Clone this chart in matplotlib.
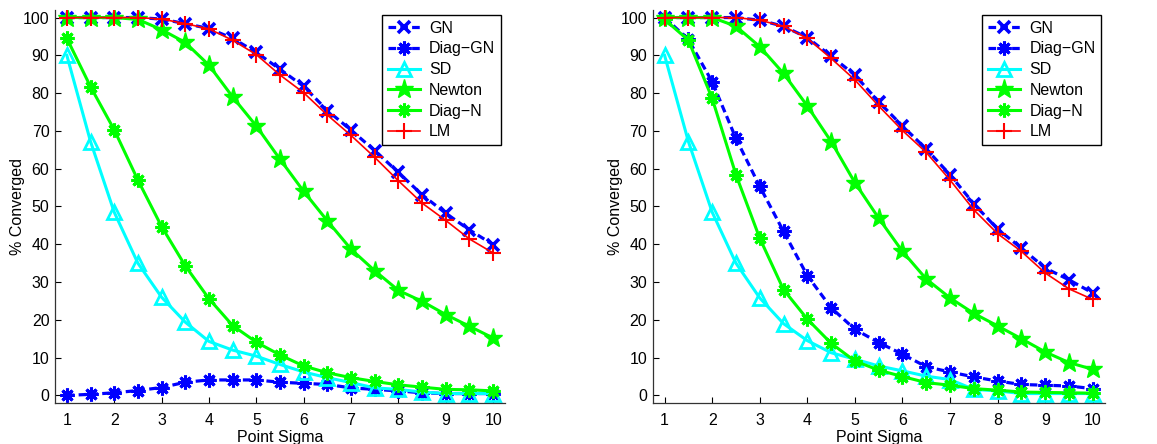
import matplotlib
matplotlib.use("Agg")
import matplotlib.pyplot as plt
import numpy as np

plt.rcParams['font.family'] = ['Liberation Sans', 'DejaVu Sans']
plt.rcParams['lines.scale_dashes'] = False

sigma = [1, 1.5, 2, 2.5, 3, 3.5, 4, 4.5, 5, 5.5, 6, 6.5, 7, 7.5, 8, 8.5, 9, 9.5, 10]
xticks = [1, 2, 3, 4, 5, 6, 7, 8, 9, 10]
yticks = [0, 10, 20, 30, 40, 50, 60, 70, 80, 90, 100]
labels = ['GN', 'Diag\u2212GN', 'SD', 'Newton', 'Diag\u2212N', 'LM']

# Left panel
gn_l = [100, 100, 100, 100, 99.6, 98.4, 97.1, 94.5, 90.8, 86.3, 81.8, 75.4, 70.2, 64.8, 59, 53.1, 48.2, 43.8, 39.9]
dgn_l = [0, 0.3, 0.7, 1.3, 2.1, 3.5, 4.1, 4.1, 4.1, 3.5, 3.2, 2.9, 2.0, 1.6, 1.2, 0.7, 0.5, 0.5, 0.5]
sd_l = [90, 67.2, 48.5, 35, 26, 19.4, 14.3, 12, 10.4, 8.2, 6.2, 4.7, 3.4, 2.0, 1.6, 0.9, 0.5, 0.5, 0.5]
newton_l = [100, 100, 100, 99.5, 96.8, 93.4, 87.4, 79, 71.3, 62.5, 54, 46.2, 38.7, 33, 27.8, 24.9, 21.4, 18.3, 15.2]
dn_l = [94.5, 81.7, 70.3, 57, 44.7, 34.3, 25.6, 18.5, 14.1, 10.7, 7.8, 6.0, 4.7, 3.7, 2.8, 2.2, 1.6, 1.5, 1.2]
lm_l = [100, 100, 100, 100, 99.6, 98.4, 97, 94, 90.2, 84.8, 80.1, 74.2, 68.8, 63, 56.8, 50.9, 46.3, 41.4, 37.7]

# Right panel
gn_r = [100, 100, 100, 100, 99.3, 97.7, 94.7, 89.8, 84.8, 77.7, 71.3, 65.2, 58.4, 50.7, 44, 39, 33.7, 30.6, 27.1]
dgn_r = [100, 94.2, 83, 68, 55.3, 43.4, 31.7, 23.2, 17.5, 14, 10.9, 7.6, 6.2, 4.9, 3.8, 2.9, 2.7, 2.5, 1.8]
sd_r = [90, 67.2, 48.5, 35, 25.8, 19, 14.5, 11.3, 9.6, 7.8, 6.5, 5.1, 4.2, 1.6, 1.2, 0.5, 0.5, 0.5, 0.5]
newton_r = [100, 100, 100, 97.7, 92.3, 85.2, 76.6, 67.2, 56.3, 46.9, 38.1, 30.8, 25.8, 21.7, 18.4, 15, 11.5, 8.7, 6.9]
dn_r = [99.5, 94, 78.6, 58.4, 41.6, 28, 20.2, 13.8, 9.1, 6.7, 5.0, 3.4, 2.7, 1.8, 1.4, 0.9, 0.8, 0.7, 0.6]
lm_r = [100, 100, 100, 100, 99.3, 97.7, 94.5, 89.2, 83.5, 76.6, 70.1, 64.3, 57, 49.1, 42.8, 38.1, 32.4, 28.2, 25.4]

asterisk = (8, 2, 0)

def draw(ax, gn, dgn, sd, newton, dn, lm):
    h = []
    h += ax.plot(sigma, gn, color=(0, 0, 1), lw=2.3, dashes=(5.5, 3.0), marker='x', ms=8, mew=2.6)
    h += ax.plot(sigma, dgn, color=(0, 0, 1), lw=2.3, dashes=(5.5, 3.0), marker=asterisk, ms=10, mew=2.2)
    h += ax.plot(sigma, sd, color=(0, 1, 1), lw=2.2, marker='^', ms=10, mfc='none', mew=2.0)
    h += ax.plot(sigma, newton, color=(0, 1, 0), lw=2.2, marker='*', ms=14, mew=1.0)
    h += ax.plot(sigma, dn, color=(0, 1, 0), lw=2.2, marker=asterisk, ms=10, mew=2.2)
    h += ax.plot(sigma, lm, color=(1, 0, 0), lw=1.2, marker='+', ms=11, mew=1.5)
    ax.set_xlim(0.75, 10.25)
    ax.set_ylim(-2, 102)
    ax.set_xticks(xticks)
    ax.set_yticks(yticks)
    ax.tick_params(direction='in', length=4, width=0.8, labelsize=11.5)
    ax.tick_params(axis='x', pad=7.5)
    ax.tick_params(axis='y', pad=4)
    for s in ['top', 'right']:
        ax.spines[s].set_visible(False)
    for s in ['left', 'bottom']:
        ax.spines[s].set_linewidth(0.9)
        ax.spines[s].set_color('#333333')
    ax.set_xlabel('Point Sigma', fontsize=11.5)
    ax.xaxis.set_label_coords(0.5, -0.068)
    ax.xaxis.label.set_va('top')
    ax.set_ylabel('% Converged', fontsize=11.5)
    return h

fig = plt.figure(figsize=(11.57, 4.44), dpi=100)
axL = fig.add_axes([55 / 1157, 41 / 444, 450 / 1157, 393 / 444])
axR = fig.add_axes([652.7 / 1157, 41 / 444, 452 / 1157, 393 / 444])

hL = draw(axL, gn_l, dgn_l, sd_l, newton_l, dn_l, lm_l)
hR = draw(axR, gn_r, dgn_r, sd_r, newton_r, dn_r, lm_r)

axL.yaxis.set_label_coords(-0.083, 0.5)
axL.yaxis.label.set_va('center')
axR.yaxis.set_label_coords(-0.082, 0.5)
axR.yaxis.label.set_va('center')

for ax, h, xa in [(axL, hL, 0.991), (axR, hR, 0.992)]:
    leg = ax.legend(h, labels, loc='upper right', bbox_to_anchor=(xa, 0.987),
                    borderaxespad=0, fontsize=11.5, fancybox=False, framealpha=1,
                    edgecolor='black', handlelength=2.0, handletextpad=0.6,
                    labelspacing=0.36, borderpad=0.35)
    leg.get_frame().set_linewidth(1.0)

fig.savefig('out.png', dpi=100)
